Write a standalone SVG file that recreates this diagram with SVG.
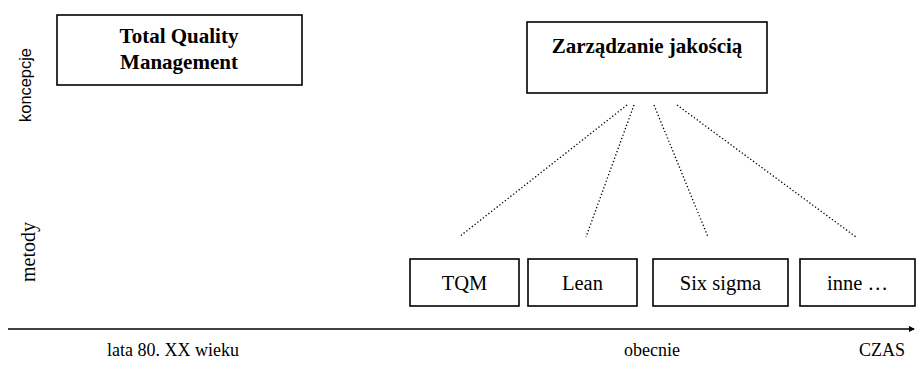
<svg xmlns="http://www.w3.org/2000/svg" width="916" height="365" viewBox="0 0 916 365">
<style>
.box{fill:#fff;stroke:#000;stroke-width:1.6}
.serif{font-family:'Liberation Serif','Times New Roman',Times,serif;fill:#000}
.b{font-weight:bold;font-size:21px;text-anchor:middle}
.m{font-size:20.5px;text-anchor:middle}
.t{font-size:18px}
.dot{stroke:#000;stroke-width:1.3;stroke-dasharray:1.3 2.2;fill:none}
</style>
<defs>
<marker id="ah" markerWidth="6" markerHeight="6" refX="5" refY="3" orient="auto" markerUnits="userSpaceOnUse">
<path d="M0,0 L6,3 L0,6 z" fill="#000"/>
</marker>
</defs>
<text x="31" y="85" transform="rotate(-90 31 85)" font-family="'Liberation Sans', Arial, sans-serif" font-size="16.4" text-anchor="middle">koncepcje</text>
<text class="serif" x="35" y="252" transform="rotate(-90 35 252)" font-size="20" text-anchor="middle">metody</text>
<g id="tqm-concept">
<rect class="box" x="57" y="15" width="245" height="70"/>
<text class="serif b" x="179" y="43">Total Quality</text>
<text class="serif b" x="179" y="69">Management</text>
</g>
<g id="zarzadzanie">
<rect class="box" x="527" y="22" width="240" height="71"/>
<text class="serif b" x="647" y="53">Zarządzanie jakością</text>
</g>
<g id="connectors">
<line class="dot" x1="627" y1="105" x2="459" y2="237"/>
<line class="dot" x1="634" y1="105" x2="586" y2="237"/>
<line class="dot" x1="654" y1="105" x2="708" y2="237"/>
<line class="dot" x1="677" y1="105" x2="856" y2="237"/>
<line x1="8" y1="329" x2="914" y2="329" stroke="#000" stroke-width="1.6" marker-end="url(#ah)"/>
</g>
<g id="m-tqm"><rect class="box" x="410" y="259" width="109" height="47"/><text class="serif m" x="464.5" y="290">TQM</text></g>
<g id="m-lean"><rect class="box" x="528" y="259" width="109" height="47"/><text class="serif m" x="582.5" y="290">Lean</text></g>
<g id="m-six"><rect class="box" x="653" y="259" width="135" height="47"/><text class="serif m" x="720.5" y="290">Six sigma</text></g>
<g id="m-inne"><rect class="box" x="800" y="259" width="115" height="47"/><text class="serif m" x="857.5" y="290">inne …</text></g>
<text class="serif t" x="107" y="356">lata 80. XX wieku</text>
<text class="serif t" x="624" y="356">obecnie</text>
<text class="serif t" x="859" y="356">CZAS</text>
</svg>
